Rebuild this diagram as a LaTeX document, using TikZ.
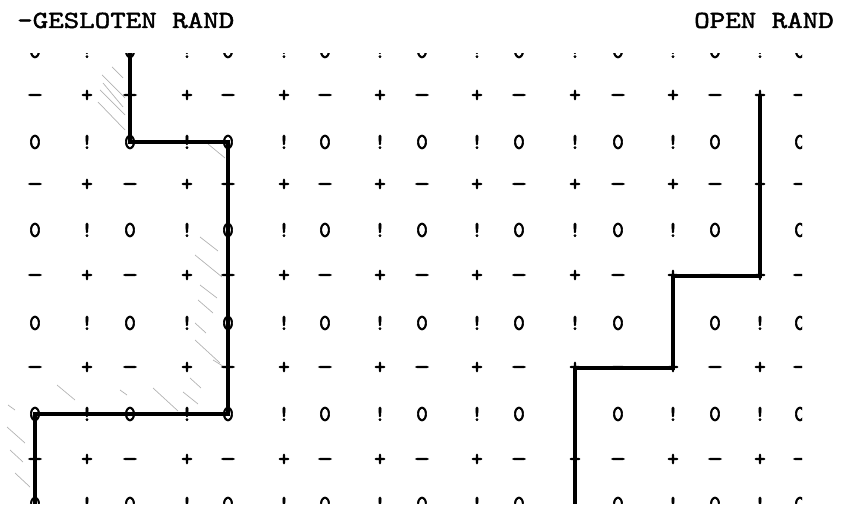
\documentclass[tikz,border=0pt]{standalone}
\usepackage{fontspec}
\newfontfamily\gridfam{lmmono10-regular.otf}[FakeBold=2.5]
\newfontfamily\titelfam{lmmono10-regular.otf}[FakeBold=1.8, FakeStretch=1.2]
\newcommand{\gridfont}{\fontsize{19}{19}\selectfont\gridfam}
\newcommand{\titlefont}{\fontsize{21}{21}\selectfont\titelfam}
\newcommand{\streep}{\scalebox{1.4}[1]{\textendash}}

\begin{document}
\begin{tikzpicture}[
  x=0.03cm, y=-0.03cm,
  gch/.style={font=\gridfont, inner sep=0pt, anchor=base},
  titel/.style={font=\titlefont, inner sep=0pt, anchor=base west},
  geslotenrand/.style={line width=3.3pt, line join=miter},
  openrand/.style={line width=2.6pt, line join=miter},
  hatch/.style={gray!60, line width=0.6pt}
]
\useasboundingbox (0,0) rectangle (846,516);

% kopjes
\node[titel] (gesloten) at (17,28) {-GESLOTEN RAND};
\node[titel] (open) at (694,28) {OPEN RAND};

% arcering langs de gesloten rand
\foreach \xa/\ya/\xb/\yb in {112/67/123/78, 102/75/125/98, 103/83/123/107,
    100/90/125/115, 98/102/125/130, 208/144/225/158,
    200/237/218/251, 195/255/222/277, 200/285/217/298, 198/300/213/313,
    195/323/206/333, 195/340/220/363, 213/360/226/368, 190/378/201/388,
    183/392/198/404, 153/388/178/411, 57/385/75/400, 120/390/127/395,
    8/405/15/410, 7/427/25/443, 10/450/23/462, 15/473/30/487}
  \draw[hatch] (\xa,\ya) -- (\xb,\yb);

\begin{scope}
\clip (0,54) rectangle (802,503);
% rooster van tekens
\foreach \x [count=\i from 0] in {35,87,130,187,228,284,325,380,422,477,519,575,618,673,715,760,800} {
  \foreach \y [count=\r from 0] in {51,96,142,185,230,276,323,368,414,460,504} {
    \coordinate (p-\r-\i) at (\x,\y);
    \ifodd\r\relax
      \ifodd\i\relax \def\teken{+}\else \def\teken{\streep}\fi
      \def\dy{5.8}
    \else
      \ifodd\i\relax \def\teken{!}\else \def\teken{0}\fi
      \def\dy{6.8}
    \fi
    \node[gch] (t-\r-\i) at (\x,\y+\dy) {\teken};
  }
}

% randen
\draw[geslotenrand] (p-0-2) -- (p-2-2) -- (p-2-4) -- (p-8-4) -- (p-8-0) -- (p-10-0);
\draw[openrand] (p-1-15) -- (p-5-15) -- (p-5-13) -- (p-7-13) -- (p-7-11) -- (p-10-11);
\end{scope}
\end{tikzpicture}
\end{document}
